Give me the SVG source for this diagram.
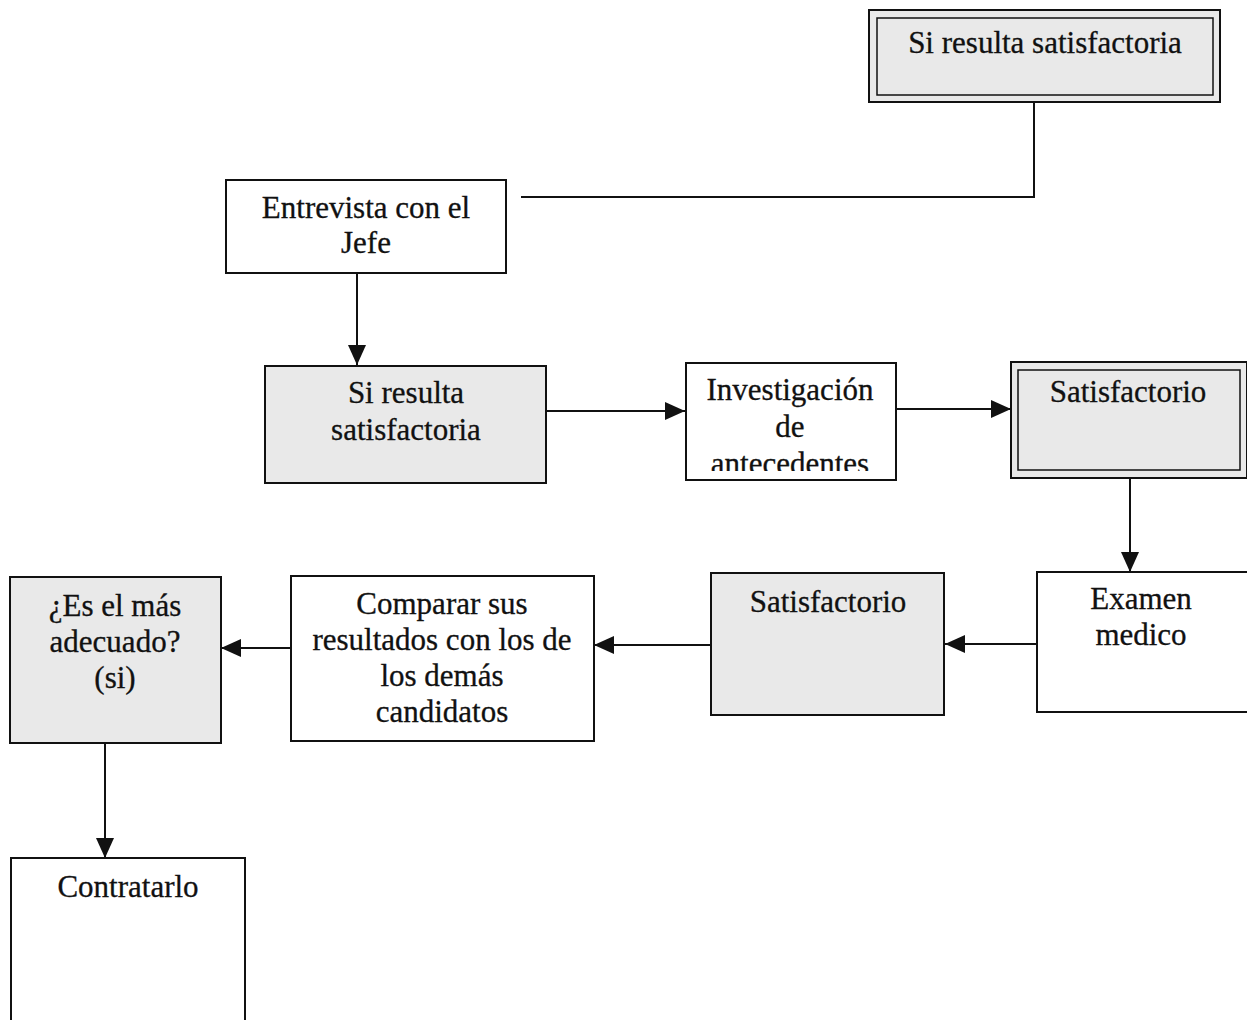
<svg xmlns="http://www.w3.org/2000/svg" width="1247" height="1020" viewBox="0 0 1247 1020">
<defs>
<style>
.box{fill:#ffffff;stroke:#111;stroke-width:2}
.gray{fill:#e9e9e9;stroke:#111;stroke-width:2}
.inner{fill:none;stroke:#111;stroke-width:1.5}
.t{font-family:"Liberation Serif","Times New Roman",serif;font-size:31px;fill:#111;stroke:#111;stroke-width:0.3;text-anchor:middle}
.c{fill:none;stroke:#111;stroke-width:2}
</style>
<marker id="ahb" viewBox="0 0 20 20" refX="20" refY="10" markerWidth="20" markerHeight="20" markerUnits="userSpaceOnUse" orient="auto">
<path d="M0,1 L20,10 L0,19 z" fill="#111"/>
</marker>
<clipPath id="invclip"><rect x="686" y="363" width="210" height="108"/></clipPath>
</defs>
<g id="connectors">
<path class="c" d="M1034,102 V197 H521"/>
<path class="c" d="M357,273 V365" marker-end="url(#ahb)"/>
<path class="c" d="M546,411 H685" marker-end="url(#ahb)"/>
<path class="c" d="M896,409 H1011" marker-end="url(#ahb)"/>
<path class="c" d="M1130,478 V572" marker-end="url(#ahb)"/>
<path class="c" d="M1037,644 H945" marker-end="url(#ahb)"/>
<path class="c" d="M711,645 H594" marker-end="url(#ahb)"/>
<path class="c" d="M291,648 H221" marker-end="url(#ahb)"/>
<path class="c" d="M105,743 V858" marker-end="url(#ahb)"/>
</g>
<g id="n-top">
<rect class="gray" x="869" y="10" width="351" height="92"/>
<rect class="inner" x="877" y="18" width="336" height="77"/>
<text class="t" x="1045" y="53">Si resulta satisfactoria</text>
</g>
<g id="n-entrevista">
<rect class="box" x="226" y="180" width="280" height="93"/>
<text class="t" x="366" y="218">Entrevista con el</text>
<text class="t" x="366" y="253">Jefe</text>
</g>
<g id="n-si">
<rect class="gray" x="265" y="366" width="281" height="117"/>
<text class="t" x="406" y="403">Si resulta</text>
<text class="t" x="406" y="440">satisfactoria</text>
</g>
<g id="n-investigacion">
<rect class="box" x="686" y="363" width="210" height="117"/>
<g clip-path="url(#invclip)">
<text class="t" x="790" y="400">Investigación</text>
<text class="t" x="790" y="437">de</text>
<text class="t" x="790" y="474">antecedentes</text>
</g>
</g>
<g id="n-satisf1">
<rect class="gray" x="1011" y="362" width="236" height="116"/>
<rect class="inner" x="1018" y="370" width="222" height="100"/>
<text class="t" x="1128" y="402">Satisfactorio</text>
</g>
<g id="n-examen">
<rect class="box" x="1037" y="572" width="212" height="140"/>
<text class="t" x="1141" y="609">Examen</text>
<text class="t" x="1141" y="645">medico</text>
</g>
<g id="n-satisf2">
<rect class="gray" x="711" y="573" width="233" height="142"/>
<text class="t" x="828" y="612">Satisfactorio</text>
</g>
<g id="n-comparar">
<rect class="box" x="291" y="576" width="303" height="165"/>
<text class="t" x="442" y="614">Comparar sus</text>
<text class="t" x="442" y="650">resultados con los de</text>
<text class="t" x="442" y="686">los demás</text>
<text class="t" x="442" y="722">candidatos</text>
</g>
<g id="n-adecuado">
<rect class="gray" x="10" y="577" width="211" height="166"/>
<text class="t" x="115" y="616">¿Es el más</text>
<text class="t" x="115" y="652">adecuado?</text>
<text class="t" x="115" y="688">(si)</text>
</g>
<g id="n-contratarlo">
<rect class="box" x="11" y="858" width="234" height="170"/>
<text class="t" x="128" y="897">Contratarlo</text>
</g>
</svg>
